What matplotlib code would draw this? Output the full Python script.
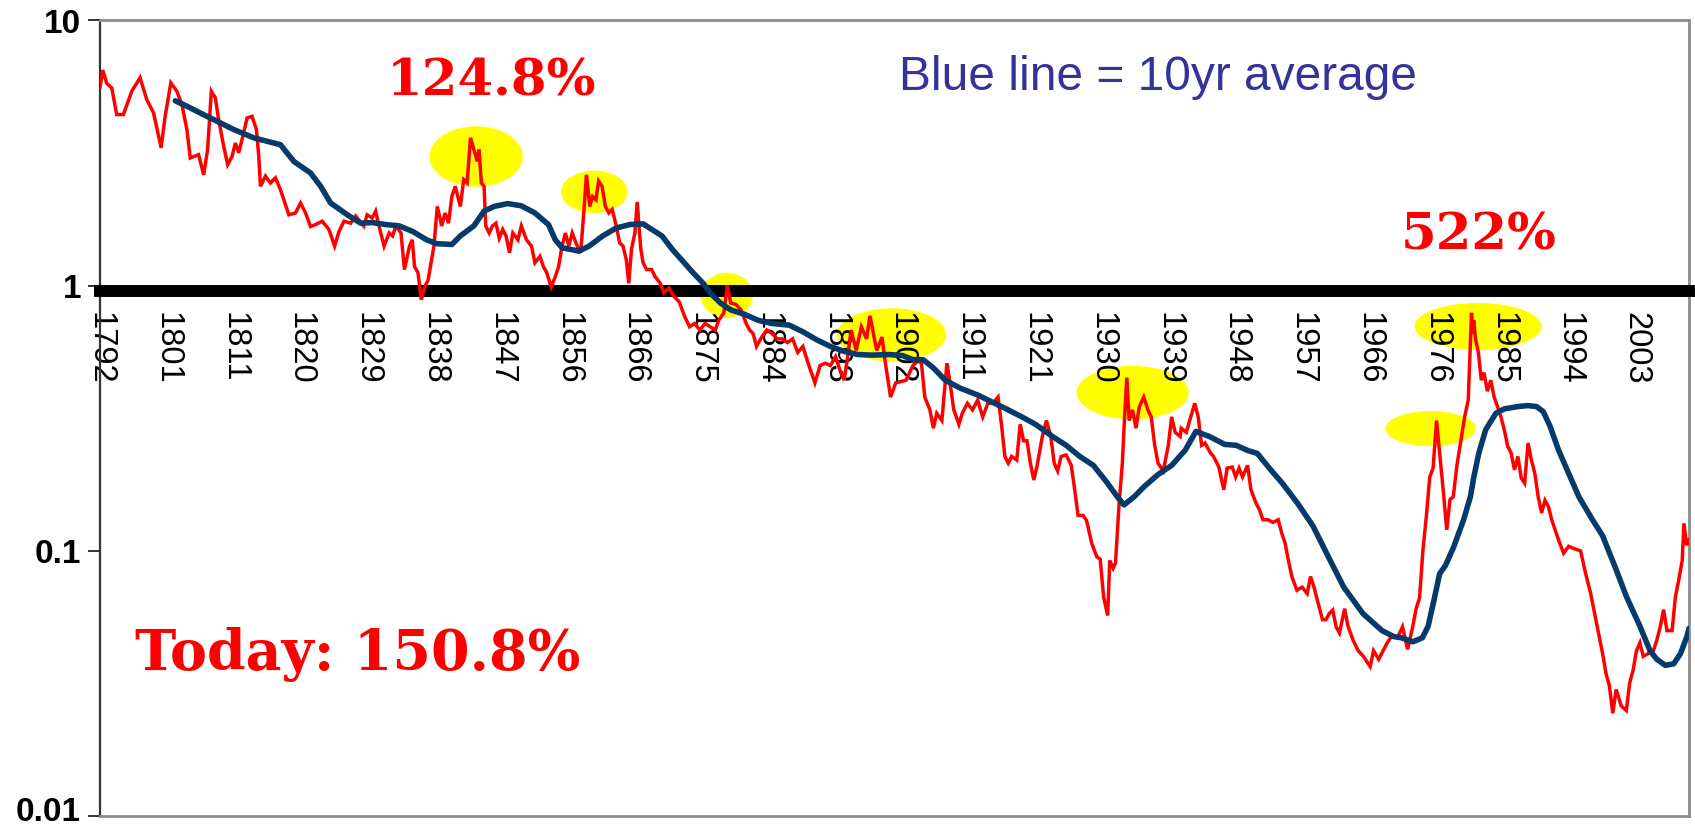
import numpy as np
import matplotlib
matplotlib.use("Agg")
import matplotlib.pyplot as plt
import matplotlib.transforms as mtransforms
from matplotlib.patches import Ellipse
from matplotlib.ticker import NullLocator

# ---------------- data ----------------
red_years = [
    1792.67, 1793.04, 1793.59, 1794.28, 1794.96, 1795.88, 1797.03, 1798.17, 1799.09, 1800.01,
    1801.06, 1801.61, 1802.39, 1803.22, 1803.91, 1804.60, 1805.06, 1806.20, 1806.89, 1807.44,
    1807.95, 1808.50, 1808.95, 1809.64, 1810.19, 1810.79, 1811.25, 1811.71, 1812.39, 1812.85,
    1813.54, 1814.14, 1814.46, 1814.69, 1815.38, 1816.06, 1816.75, 1817.44, 1817.90, 1818.59,
    1819.50, 1820.19, 1820.88, 1821.57, 1822.26, 1823.17, 1824.09, 1824.87, 1825.47, 1826.16,
    1827.07, 1827.76,
    1828.87, 1829.33, 1830.03, 1830.50, 1830.96, 1831.66, 1832.36, 1832.82, 1833.29, 1833.98,
    1834.45, 1835.15, 1835.52, 1835.84, 1836.31, 1836.77, 1837.24, 1837.70, 1838.17, 1838.50,
    1838.96, 1839.57, 1840.03, 1840.50, 1840.96, 1841.43, 1842.12, 1842.59, 1843.05, 1843.52,
    1843.98, 1844.45, 1844.68, 1845.01, 1845.38, 1845.61, 1846.08, 1846.54, 1847.01, 1847.47,
    1847.94, 1848.40, 1848.87, 1849.33, 1850.03, 1850.50, 1851.19, 1851.89, 1852.36, 1853.05,
    1853.52, 1853.98, 1854.59, 1855.15, 1855.61, 1856.08, 1856.54, 1857.01, 1857.47, 1858.17,
    1858.64, 1859.10, 1859.43, 1859.89, 1860.26, 1860.73, 1861.10, 1861.57, 1862.03, 1862.50,
    1862.96, 1863.52, 1863.99, 1864.45, 1864.91, 1865.24, 1865.61, 1866.08, 1866.40, 1866.70,
    1866.90,
    1867.21, 1867.68, 1868.39, 1868.86, 1869.57, 1870.04, 1870.75, 1871.45, 1872.16,
    1872.87, 1873.58, 1874.28, 1874.99, 1875.70, 1876.41, 1877.11, 1877.58, 1878.29, 1878.76,
    1879.24, 1879.94, 1880.65, 1881.36, 1881.83, 1882.30, 1882.77, 1883.48, 1884.19, 1884.90,
    1885.60, 1886.31, 1887.02, 1887.73, 1888.43, 1889.14, 1889.85, 1890.79, 1891.50, 1892.21,
    1892.92, 1893.62, 1894.33, 1894.80, 1895.28, 1895.75, 1896.45, 1897.16, 1897.87, 1898.34,
    1898.81, 1899.28, 1899.99, 1900.46, 1901.17, 1901.88,
    1903.30, 1904.24, 1904.94, 1905.41, 1905.87, 1906.57, 1907.04, 1907.51, 1908.21, 1908.91,
    1909.38, 1909.85, 1910.55, 1911.01, 1911.71, 1912.42, 1913.12, 1913.82, 1914.52, 1915.22,
    1915.92, 1916.39, 1916.86, 1917.32, 1917.79, 1918.49, 1918.96, 1919.43, 1919.89, 1920.36,
    1920.83, 1921.29, 1922.00, 1922.56, 1923.16, 1923.63, 1924.10, 1924.57, 1925.27, 1925.97,
    1926.44, 1926.90, 1927.60, 1928.07, 1928.77, 1929.47, 1929.94, 1930.41, 1930.97, 1931.25,
    1931.72, 1932.04, 1932.51, 1932.98, 1933.21, 1933.59, 1933.91, 1934.38, 1934.85, 1935.31,
    1935.92, 1936.48, 1936.95, 1937.42, 1937.88, 1938.59, 1939.29, 1939.75, 1940.22, 1940.92,
    1941.06, 1941.76, 1942.22, 1942.92, 1943.39, 1943.86, 1944.33, 1945.03, 1945.49, 1946.20,
    1946.90, 1947.36, 1948.06, 1948.53, 1949.00, 1949.47, 1950.17, 1950.63, 1951.34, 1951.80,
    1952.27, 1952.97, 1953.67, 1954.37, 1954.84, 1955.31, 1955.77, 1956.24, 1956.94, 1957.64,
    1958.35, 1958.81, 1959.28, 1959.75, 1960.45, 1960.92, 1961.38, 1961.85, 1962.32, 1962.78,
    1963.49, 1963.95, 1964.65, 1965.35, 1966.06, 1966.99, 1967.46, 1968.16, 1968.86, 1969.33,
    1970.03, 1970.73, 1971.43, 1972.13, 1972.83, 1973.30, 1973.77, 1974.23, 1974.70, 1975.17,
    1975.63, 1976.10, 1976.57, 1977.04, 1977.50,
    1977.95, 1978.40, 1978.90, 1979.43, 1979.96, 1980.45, 1980.90, 1981.05, 1981.20,
    1981.45, 1981.85, 1982.25, 1982.61, 1983.08, 1983.54, 1984.01, 1984.47, 1984.94, 1985.40,
    1985.87, 1986.33, 1986.80, 1987.26, 1987.73, 1988.19, 1988.66, 1989.12, 1989.59, 1990.05,
    1990.52, 1990.98, 1991.45, 1991.91, 1992.38, 1992.84, 1993.54, 1994.24, 1994.94, 1995.87,
    1996.57, 1997.26, 1997.96, 1998.43, 1998.89, 1999.36, 1999.82, 2000.29, 2000.75, 2001.45,
    2002.15, 2002.61, 2003.08, 2003.54, 2004.01, 2004.47, 2005.17, 2005.87, 2006.33, 2006.80,
    2007.26, 2007.73, 2008.43, 2008.89, 2009.36, 2009.82, 2010.05, 2010.43, 2010.75,
]
red_values = [
    5.6, 6.5, 5.8, 5.57, 4.42, 4.42, 5.41, 6.08, 5.03, 4.49,
    3.31, 4.35, 5.82, 5.41, 4.82, 3.88, 3.03, 3.12, 2.62, 3.26,
    5.41, 5.11, 4.23, 3.36, 2.86, 3.07, 3.45, 3.17, 3.77, 4.29,
    4.35, 3.88, 3.07, 2.37, 2.59, 2.44, 2.55, 2.30, 2.11, 1.85,
    1.88, 2.05, 1.88, 1.67, 1.70, 1.75, 1.63, 1.41, 1.60, 1.75,
    1.72, 1.83,
    1.68, 1.85, 1.80, 1.91, 1.68, 1.41, 1.58, 1.54, 1.68, 1.58,
    1.15, 1.41, 1.49, 1.18, 1.12, 0.885, 0.99, 1.05, 1.25, 1.41,
    1.99, 1.68, 1.88, 1.72, 2.17, 2.37, 1.99, 2.51, 2.44, 3.61,
    3.26, 2.94, 3.26, 2.44, 2.37, 1.68, 1.58, 1.68, 1.72, 1.51,
    1.63, 1.54, 1.33, 1.58, 1.49, 1.68, 1.49, 1.41, 1.22, 1.29,
    1.18, 1.12, 0.99, 1.08, 1.18, 1.41, 1.58, 1.41, 1.58, 1.41,
    1.33, 1.94, 2.62, 1.99, 2.17, 2.11, 2.48, 2.37, 1.99, 1.88,
    1.94, 1.68, 1.45, 1.41, 1.25, 1.02, 1.37, 1.58, 2.07, 1.60,
    1.37,
    1.22, 1.15, 1.15, 1.08, 1.02, 0.94, 0.98, 0.91, 0.87,
    0.77, 0.70, 0.72, 0.68, 0.72, 0.70, 0.68, 0.74, 0.79, 1.00,
    0.86, 0.85, 0.81, 0.72, 0.68, 0.66, 0.59, 0.64, 0.68, 0.66,
    0.63, 0.63, 0.61, 0.63, 0.56, 0.59, 0.51, 0.43, 0.50, 0.51,
    0.50, 0.54, 0.47, 0.44, 0.54, 0.68, 0.57, 0.70, 0.63, 0.77,
    0.66, 0.57, 0.64, 0.51, 0.38, 0.43,
    0.44, 0.50, 0.52, 0.51, 0.38, 0.34, 0.29, 0.33, 0.31, 0.51,
    0.42, 0.34, 0.30, 0.33, 0.36, 0.34, 0.37, 0.32, 0.36, 0.36,
    0.38, 0.30, 0.227, 0.214, 0.227, 0.22, 0.30, 0.26, 0.26, 0.214,
    0.185, 0.21, 0.27, 0.31, 0.27, 0.214, 0.20, 0.227, 0.23, 0.21,
    0.17, 0.136, 0.136, 0.13, 0.107, 0.095, 0.093, 0.067, 0.057, 0.092,
    0.086, 0.09, 0.147, 0.214, 0.29, 0.45, 0.31, 0.34, 0.29, 0.35,
    0.38, 0.34, 0.32, 0.25, 0.214, 0.20, 0.25, 0.32, 0.28, 0.27,
    0.29, 0.28, 0.31, 0.36, 0.32, 0.25, 0.255, 0.235, 0.227, 0.208,
    0.17, 0.205, 0.207, 0.19, 0.205, 0.19, 0.21, 0.17, 0.151, 0.143,
    0.131, 0.131, 0.128, 0.131, 0.117, 0.107, 0.092, 0.080, 0.071, 0.073,
    0.069, 0.080, 0.073, 0.065, 0.055, 0.055, 0.058, 0.0598, 0.0517, 0.049,
    0.0605, 0.052, 0.046, 0.042, 0.040, 0.0366, 0.042, 0.039, 0.0425, 0.045,
    0.048, 0.047, 0.0517, 0.0425, 0.0517, 0.0605, 0.0665, 0.10, 0.135, 0.19,
    0.205, 0.31, 0.227, 0.167, 0.12,
    0.156, 0.16, 0.21, 0.26, 0.32, 0.37, 0.79, 0.66, 0.74,
    0.63, 0.557, 0.44, 0.47, 0.40, 0.44, 0.38, 0.35, 0.32, 0.286,
    0.248, 0.234, 0.202, 0.227, 0.188, 0.18, 0.255, 0.22, 0.196, 0.16,
    0.139, 0.155, 0.147, 0.131, 0.12, 0.11, 0.098, 0.104, 0.102, 0.10,
    0.082, 0.069, 0.055, 0.0475, 0.041, 0.0345, 0.031, 0.0244, 0.030, 0.026,
    0.025, 0.0318, 0.0355, 0.042, 0.045, 0.040, 0.041, 0.042, 0.046, 0.0517,
    0.06, 0.05, 0.05, 0.0673, 0.078, 0.092, 0.127, 0.105, 0.11,
]

blue_years = [
    1803.00, 1804.60, 1807.35, 1808.27, 1811.02, 1813.77, 1817.44, 1819.28, 1821.57, 1822.95,
    1824.32, 1826.62, 1828.45, 1830.03, 1831.89, 1833.75, 1835.61, 1837.47, 1838.87, 1840.96,
    1842.12, 1843.98, 1845.38, 1846.77, 1848.63, 1850.50, 1852.36, 1854.22, 1855.15, 1856.08,
    1858.40, 1859.80, 1861.66, 1863.52, 1865.38, 1867.20, 1868.39, 1869.80, 1871.22, 1872.63,
    1874.05, 1875.46, 1876.40, 1877.82, 1879.24, 1881.12, 1883.01, 1884.90, 1887.25, 1889.14,
    1891.03, 1892.92, 1894.80, 1896.69, 1898.58, 1900.93, 1902.82, 1904.24, 1905.64, 1907.04,
    1908.68, 1910.78, 1913.12, 1915.45, 1917.32, 1919.19, 1921.06, 1923.39, 1925.27, 1927.14,
    1929.01, 1930.87, 1932.28, 1933.21, 1934.61, 1936.01, 1937.88, 1939.75, 1941.62, 1943.08,
    1944.92, 1947.03, 1948.61, 1950.19, 1951.50, 1953.35, 1954.93, 1957.04, 1959.15, 1961.25,
    1963.36, 1966.00, 1968.63, 1970.21, 1971.27, 1972.85, 1974.16, 1974.95, 1975.74, 1976.53,
    1977.32, 1978.43, 1979.82, 1980.75, 1981.22, 1981.91, 1982.84, 1984.24, 1985.40, 1987.26,
    1988.66, 1989.82, 1990.75, 1991.68, 1992.84, 1994.24, 1995.63, 1997.50, 1998.89, 2000.75,
    2002.15, 2004.01, 2005.40, 2006.33, 2007.50, 2008.66, 2009.59, 2010.52, 2010.75,
]
blue_values = [
    4.98, 4.75, 4.35, 4.23, 3.88, 3.61, 3.40, 2.94, 2.66, 2.37,
    2.05, 1.85, 1.72, 1.73, 1.70, 1.68, 1.60, 1.49, 1.44, 1.43,
    1.54, 1.68, 1.91, 1.99, 2.04, 2.00, 1.88, 1.70, 1.49, 1.39,
    1.35, 1.41, 1.54, 1.65, 1.70, 1.71, 1.63, 1.54, 1.37, 1.24,
    1.12, 1.02, 0.94, 0.86, 0.81, 0.78, 0.74, 0.72, 0.71, 0.67,
    0.625, 0.59, 0.565, 0.55, 0.547, 0.55, 0.545, 0.526, 0.526, 0.49,
    0.44, 0.41, 0.387, 0.36, 0.34, 0.32, 0.30, 0.27, 0.25, 0.227,
    0.21, 0.181, 0.16, 0.149, 0.16, 0.175, 0.194, 0.21, 0.24, 0.282,
    0.27, 0.252, 0.25, 0.239, 0.233, 0.202, 0.18, 0.151, 0.124, 0.095,
    0.073, 0.058, 0.050, 0.0475, 0.047, 0.0454, 0.047, 0.052, 0.065, 0.082,
    0.088, 0.103, 0.131, 0.16, 0.19, 0.234, 0.286, 0.33, 0.343, 0.35,
    0.353, 0.35, 0.335, 0.295, 0.24, 0.196, 0.16, 0.131, 0.114, 0.085,
    0.0673, 0.052, 0.042, 0.039, 0.037, 0.0375, 0.041, 0.048, 0.051,
]

x_tick_labels = ["1792", "1801", "1811", "1820", "1829", "1838", "1847", "1856",
                 "1866", "1875", "1884", "1893", "1902", "1911", "1921", "1930",
                 "1939", "1948", "1957", "1966", "1976", "1985", "1994", "2003"]
y_ticks = [0.01, 0.1, 1, 10]
y_tick_labels = ["0.01", "0.1", "1", "10"]

# highlighted episodes: (year, value, width in years, height in decades)
highlight_years = [1844.3, 1860.5, 1878.7, 1901.3, 1934.4, 1981.8, 1975.3]
highlight_values = [3.07, 2.26, 0.92, 0.653, 0.395, 0.702, 0.289]
highlight_w_years = [12.8, 9.1, 7.2, 15.0, 15.4, 17.4, 12.4]
highlight_h_decades = [0.228, 0.160, 0.170, 0.200, 0.202, 0.177, 0.133]

FIRST_YEAR = 1792.67
LABEL_STEP = 110 / 12.0
LAST_YEAR = 2010.75

# ---------------- figure ----------------
W, H = 1695, 830
fig = plt.figure(figsize=(W / 100, H / 100), dpi=100)
L, R, T, B = 100, 1689, 20.5, 816
ax = fig.add_axes([L / W, (H - B) / H, (R - L) / W, (B - T) / H])
ax.set_yscale("log")
ax.set_xlim(FIRST_YEAR, LAST_YEAR)
ax.set_ylim(0.01, 10)

# ellipses (in axes fraction so that they stay elliptical on the log axis)
span = LAST_YEAR - FIRST_YEAR
for yr, v, wy, hd in zip(highlight_years, highlight_values, highlight_w_years, highlight_h_decades):
    cx = (yr - FIRST_YEAR) / span
    cy = (np.log10(v) + 2) / 3
    ax.add_patch(Ellipse((cx, cy), wy / span, hd / 3, transform=ax.transAxes,
                         facecolor="#ffff00", edgecolor="none", zorder=1))

ax.plot(red_years, red_values, color="#ff0000", lw=2.5, zorder=4, solid_joinstyle="miter")
ax.plot(blue_years, blue_values, color="#063a6b", lw=4.0, zorder=5, solid_capstyle="round")

# spines / axes
for s in ["top", "right"]:
    ax.spines[s].set_color("#8c8c8c")
    ax.spines[s].set_linewidth(2.0)
ax.spines["left"].set_color("#333333")
ax.spines["left"].set_linewidth(1.6)
ax.spines["bottom"].set_position(("data", 0.957))
ax.spines["bottom"].set_linewidth(8.6)
ax.spines["bottom"].set_color("black")
ax.spines["bottom"].set_zorder(3)
ax.plot([0, 1], [0, 0], transform=ax.transAxes, color="#8c8c8c", lw=2.0, clip_on=False, zorder=6)

ax.set_xticks([FIRST_YEAR + k * LABEL_STEP for k in range(len(x_tick_labels))])
ax.set_xticklabels(x_tick_labels, rotation=270, fontsize=23.5, family="Liberation Sans")
ax.tick_params(axis="x", length=0, pad=15)

ax.set_yticks(y_ticks)
ax.set_yticklabels(y_tick_labels, fontsize=24, fontweight="bold", family="Liberation Sans")
ax.yaxis.set_minor_locator(NullLocator())
ax.tick_params(axis="y", length=8.6, width=1.4, color="#333333", pad=5, which="major")
# keep the lowest label inside the canvas
low_label = ax.get_yticklabels()[0]
low_label.set_transform(low_label.get_transform()
                        + mtransforms.ScaledTranslation(0, 5 / 72, fig.dpi_scale_trans))

# annotations
def fx(px):
    return (px - L) / (R - L)

def fy(py):
    return (B - py) / (B - T)

ax.text(fx(491), fy(82), "124.8%", transform=ax.transAxes, color="#ff0000",
        fontsize=37, fontweight="bold", family="DejaVu Serif", ha="center", va="center")
ax.text(fx(1479), fy(236), "522%", transform=ax.transAxes, color="#ff0000",
        fontsize=37, fontweight="bold", family="DejaVu Serif", ha="center", va="center")
ax.text(fx(358), fy(654), "Today: 150.8%", transform=ax.transAxes, color="#ff0000",
        fontsize=40, fontweight="bold", family="DejaVu Serif", ha="center", va="center")
ax.text(fx(1158), fy(77), "Blue line = 10yr average", transform=ax.transAxes, color="#333399",
        fontsize=34.5, family="Liberation Sans", ha="center", va="center")

fig.savefig("out.png", dpi=100)
